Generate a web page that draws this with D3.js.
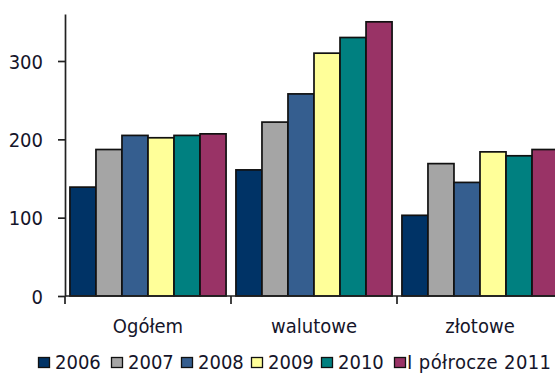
<!DOCTYPE html>
<html><head><meta charset="utf-8">
<script src="https://cdn.jsdelivr.net/npm/d3@7"></script>
<style>
html,body{margin:0;padding:0;background:#fff;}
text{font-family:"DejaVu Sans Condensed","DejaVu Sans",sans-serif;font-stretch:condensed;fill:#15152a;}
</style></head>
<body><svg id="c" width="555" height="376"></svg>
<script>
const categories = ["Ogółem", "walutowe", "złotowe"];
const seriesNames = ["2006", "2007", "2008", "2009", "2010", "I półrocze 2011"];
const colors = ["#003366", "#A5A5A5", "#355E8F", "#FFFF99", "#008080", "#993366"];
const values2006 = [139, 161, 103];
const values2007 = [187, 222, 169];
const values2008 = [205, 258, 145];
const values2009 = [202, 310, 184];
const values2010 = [205, 330, 179];
const values2011 = [207, 350, 187];
const yTicks = [0, 100, 200, 300];
const seriesValues = [values2006, values2007, values2008, values2009, values2010, values2011];

const svg = d3.select("#c");
const x0 = d3.scaleBand().domain(categories).range([65, 563]).paddingInner(0).paddingOuter(0);
const x1 = d3.scaleBand().domain(seriesNames).range([0, x0.bandwidth()]).paddingInner(0).paddingOuter(0.19);
const y = d3.scaleLinear().domain([0, 360]).range([296, 14]);

// bars
const g = svg.append("g");
categories.forEach((cat, ci) => {
  seriesNames.forEach((s, si) => {
    const v = seriesValues[si][ci];
    g.append("rect")
      .attr("x", x0(cat) + x1(s))
      .attr("y", y(v))
      .attr("width", x1.bandwidth())
      .attr("height", y(0) - y(v))
      .attr("fill", colors[si])
      .attr("stroke", "#111")
      .attr("stroke-width", 1.7);
  });
});

// y axis
const yAxis = svg.append("g").attr("transform", "translate(65,0)")
  .call(d3.axisLeft(y).tickValues(yTicks).tickSize(7).tickPadding(15).tickSizeOuter(0));
yAxis.attr("font-family", null).attr("font-size", null);
yAxis.select(".domain").attr("stroke", "#222").attr("stroke-width", 1.7);
yAxis.selectAll(".tick line").attr("stroke", "#222").attr("stroke-width", 1.7);
yAxis.selectAll(".tick text").attr("font-size", 20).attr("fill", "#15152a").attr("dy", "0.36em");

// x axis line
svg.append("line").attr("x1", 65).attr("x2", 555).attr("y1", y(0)).attr("y2", y(0))
  .attr("stroke", "#222").attr("stroke-width", 1.7);
// category boundary ticks
const bounds = categories.map(c => x0(c));
svg.selectAll(".xt").data(bounds).enter().append("line")
  .attr("x1", d => d).attr("x2", d => d).attr("y1", y(0)).attr("y2", y(0) + 8)
  .attr("stroke", "#222").attr("stroke-width", 1.7);
// category labels
svg.selectAll(".cl").data(categories).enter().append("text")
  .attr("x", d => x0(d) + x0.bandwidth() / 2).attr("y", 333)
  .attr("text-anchor", "middle").attr("font-size", 20).text(d => d);

// legend
const legX = [38, 111, 181, 251, 321, 394];
const leg = svg.append("g");
seriesNames.forEach((s, i) => {
  leg.append("rect").attr("x", legX[i] + 0.5).attr("y", 357.5).attr("width", 11).attr("height", 10)
    .attr("fill", colors[i]).attr("stroke", "#111").attr("stroke-width", 1.3);
  leg.append("text").attr("x", legX[i] + (i === 5 ? 13 : 17)).attr("y", 369)
    .attr("font-size", 20).attr("letter-spacing", i === 5 ? 0.4 : 0).text(s);
});
</script></body></html>
